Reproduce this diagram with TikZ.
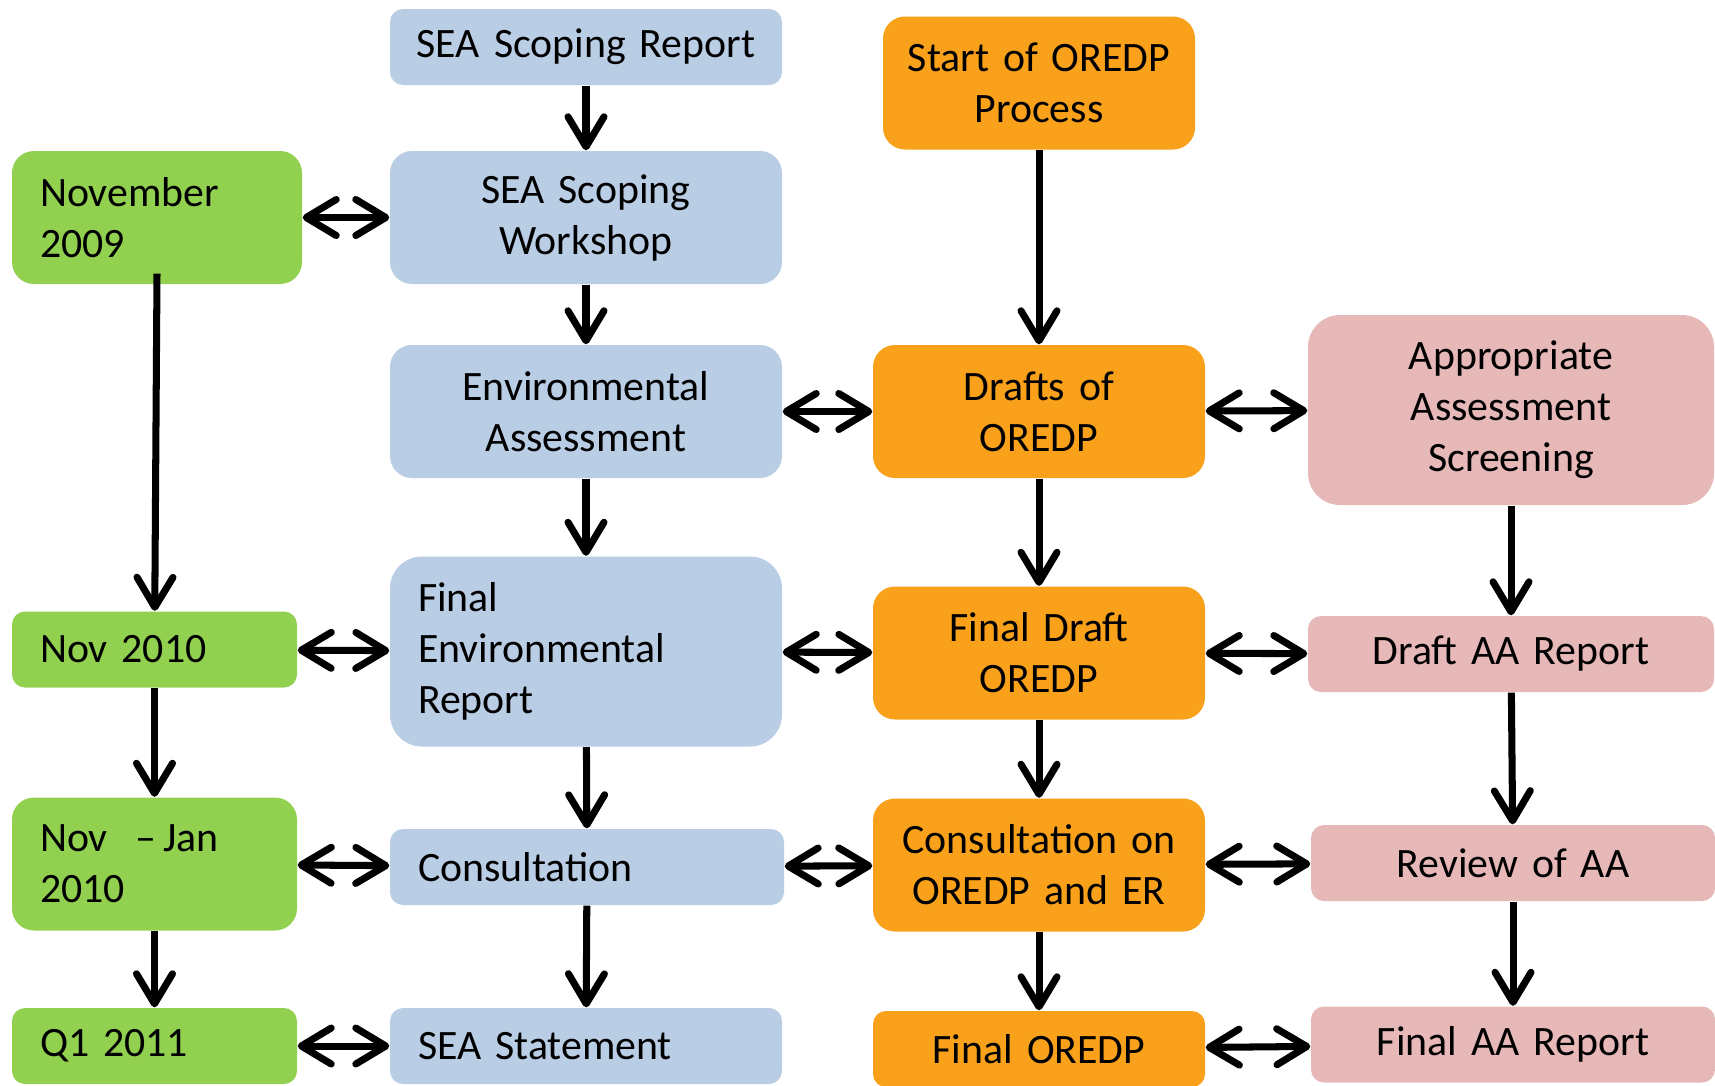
\documentclass[tikz,border=0pt]{standalone}
\usepackage{fontspec}
\setmainfont{Carlito}
\usepackage{tikz}
\usetikzlibrary{arrows.meta}

\definecolor{seablue}{HTML}{B9CDE5}
\definecolor{dategreen}{HTML}{92D050}
\definecolor{planorange}{HTML}{F9A11B}
\definecolor{aapink}{HTML}{E6B8B7}

\begin{document}
\begin{tikzpicture}[
    font=\fontsize{11.9}{14.5}\selectfont,
    stage/.style={rectangle, rounded corners=0.13cm, inner xsep=0.28cm, inner ysep=0pt,
      align=center},
    seabox/.style={stage, fill=seablue, text width=3.36cm},
    datebox/.style={stage, fill=dategreen, text width=2.29cm, align=left},
    planbox/.style={stage, fill=planorange, text width=2.76cm},
    aabox/.style={stage, fill=aapink, text width=3.5cm},
    onerow/.style={minimum height=0.76cm},
    tworow/.style={minimum height=1.33cm, rounded corners=0.22cm},
    threerow/.style={minimum height=1.9cm, rounded corners=0.32cm},
    flow/.style={-{Straight Barb[length=3mm, width=3.6mm, round]}, line width=2pt},
    link/.style={{Straight Barb[length=3mm, width=3.6mm, round]}-{Straight Barb[length=3mm, width=3.6mm, round]},
      line width=2pt},
  ]
  \useasboundingbox (0,0) rectangle (17.15,-10.85);

  \node[seabox, onerow, inner xsep=0.1cm, text width=3.72cm] (report) at (5.86,-0.47) {SEA Scoping Report};
  \node[seabox, tworow]            (workshop)  at (5.86,-2.175) {SEA Scoping\\Workshop};
  \node[seabox, tworow]            (envassess) at (5.86,-4.115) {Environmental\\Assessment};
  \node[seabox, threerow, align=left] (envreport) at (5.86,-6.515) {Final\\Environmental\\Report};
  \node[seabox, onerow, align=left, text width=3.38cm] (consult) at (5.87,-8.67) {Consultation};
  \node[seabox, onerow, align=left] (statement) at (5.86,-10.46) {SEA Statement};

  \node[datebox, tworow, text width=2.34cm] (nov09) at (1.57,-2.175) {November\\2009};
  \node[datebox, onerow]           (nov10)     at (1.545,-6.495) {Nov 2010};
  \node[datebox, tworow]           (novjan)    at (1.545,-8.64)  {Nov\enspace\,--\,Jan\\2010};
  \node[datebox, onerow]           (q1)        at (1.545,-10.46) {Q1 2011};

  \node[planbox, tworow, inner xsep=0.1cm, text width=2.92cm] (start) at (10.39,-0.83) {Start of OREDP\\Process};
  \node[planbox, tworow]           (drafts)    at (10.39,-4.115) {Drafts of\\OREDP};
  \node[planbox, tworow]           (finaldraft) at (10.39,-6.53) {Final Draft\\OREDP};
  \node[planbox, tworow]           (consoredp) at (10.39,-8.65)  {Consultation on\\OREDP and ER};
  \node[planbox, onerow]           (oredp)     at (10.39,-10.49) {Final OREDP};

  \node[aabox, threerow]           (screening) at (15.11,-4.10)  {Appropriate\\Assessment\\Screening};
  \node[aabox, onerow]             (draftaa)   at (15.11,-6.54)  {Draft AA Report};
  \node[aabox, onerow, text width=3.48cm] (review) at (15.13,-8.63) {Review of AA};
  \node[aabox, onerow, text width=3.48cm] (finalaa) at (15.13,-10.445) {Final AA Report};

  \draw[flow] (report) -- (workshop);
  \draw[flow] (workshop) -- (envassess);
  \draw[flow] (envassess) -- (envreport);
  \draw[flow] (envreport) -- (consult);
  \draw[flow] (consult) -- (statement);

  \draw[flow] ([yshift=0.11cm]nov09.south) -- (nov10);
  \draw[flow] (nov10) -- (novjan);
  \draw[flow] (novjan) -- (q1);

  \draw[flow] (start) -- (drafts);
  \draw[flow] (drafts) -- (finaldraft);
  \draw[flow] (finaldraft) -- (consoredp);
  \draw[flow] (consoredp) -- (oredp);

  \draw[flow] (screening) -- (draftaa);
  \draw[flow] (draftaa) -- (review);
  \draw[flow] (review) -- (finalaa);

  \draw[link] (nov09) -- (workshop);
  \draw[link] (nov10) -- (envreport);
  \draw[link] (novjan) -- (consult);
  \draw[link] (q1) -- (statement);
  \draw[link] (envassess) -- (drafts);
  \draw[link] (envreport) -- (finaldraft);
  \draw[link] (consult) -- (consoredp);
  \draw[link] (drafts) -- (screening);
  \draw[link] (finaldraft) -- (draftaa);
  \draw[link] (consoredp) -- (review);
  \draw[link] (oredp) -- (finalaa);
\end{tikzpicture}
\end{document}
